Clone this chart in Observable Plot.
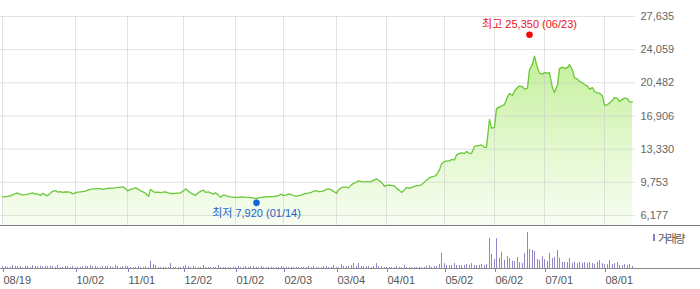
<!DOCTYPE html>
<html><head><meta charset="utf-8">
<script src="https://cdn.jsdelivr.net/npm/d3@7"></script>
<script src="https://cdn.jsdelivr.net/npm/@observablehq/plot@0.6"></script>
<style>
html,body{margin:0;padding:0;background:#fff;}
#chart{position:relative;width:700px;height:289px;overflow:hidden;font-family:"Liberation Sans","Noto Sans CJK KR",sans-serif;}
#chart svg{position:absolute;left:0;display:block;max-width:none;}
#legend{position:absolute;left:653px;top:231px;height:13px;display:flex;align-items:center;font-size:11px;color:#555;white-space:nowrap;letter-spacing:-1.5px;}
#legend i{display:inline-block;width:2px;height:7px;background:#8f7cc4;margin-right:3px;}
</style></head><body><div id="chart"></div>
<script>
// daily closes (trading-day index 0..251)
const closes = [
8190,8220,8240,8300,8400,8550,8590,8460,8400,8430,
8460,8550,8620,8480,8510,8330,8570,8400,8300,8590,
8780,8870,8700,8760,8670,8710,8730,8670,8510,8620,
8700,8730,8760,8800,8920,8990,9050,9050,9070,9080,
9000,9050,9090,9120,9130,9160,9200,9230,9270,9100,
8840,9000,9080,9160,9000,8840,8700,8570,8240,9000,
8730,8670,8700,8650,8700,8730,8620,8550,8550,8570,
8600,8620,8840,9050,8780,8620,8460,8350,8650,8780,
8910,8670,8730,8620,8480,8620,8350,8140,8400,8320,
8240,8190,8140,8140,8140,8190,8160,8140,8130,8100,
8060,8000,8080,8140,8170,8190,8200,8210,8220,8280,
8330,8480,8330,8400,8480,8440,8330,8240,8320,8380,
8480,8570,8590,8670,8800,8870,8750,8780,8840,9000,
9050,8940,8780,8570,8940,9180,9240,9230,9160,9480,
9640,9770,9910,9820,9800,9820,9840,9860,9970,10130,
9970,9750,9320,9430,9460,9430,9380,9100,8890,8670,
8940,9210,9100,9210,9320,9370,9430,9480,9800,9970,
10230,10340,10400,10560,11100,11740,12010,12030,12060,12220,
12170,12710,12870,12920,12870,13090,12870,12850,13620,13680,
13730,13790,13520,13520,16530,15610,15670,17710,17870,17980,
18140,18950,19330,19110,19600,19970,20130,20060,19810,19920,
21860,22500,23360,22070,21530,21420,21610,21500,21590,19920,
19430,20240,22020,22180,22020,22120,22450,21860,21020,20890,
20640,20460,20300,20130,19810,19970,19520,19400,19350,19060,
18040,18140,18300,18590,18900,18810,18470,18700,18840,18780,
18430,18410
];
// daily volume (thousand shares)
const volumes = [
42,38,21,24,61,44,37,40,19,43,39,22,58,41,36,45,39,42,38,44,40,
23,62,18,21,41,37,24,43,19,22,20,39,44,41,59,38,42,21,19,40,
37,43,39,22,63,41,18,40,44,38,21,19,23,42,20,22,39,18,142,81,
58,21,19,22,20,18,101,21,23,19,22,41,62,38,20,43,21,18,22,61,
19,22,20,21,18,59,22,19,21,20,18,23,21,42,19,22,39,21,43,38,
22,19,41,20,18,21,23,19,22,20,39,21,18,22,20,19,23,21,18,22,
20,41,19,43,22,18,21,39,42,20,22,61,19,21,79,41,38,43,58,98,
42,101,39,41,38,43,21,40,99,42,38,19,22,20,21,18,41,22,19,61,
21,19,22,20,18,21,17,22,41,58,21,39,42,81,302,98,61,58,63,102,
59,62,57,61,79,63,98,61,58,62,81,59,78,605,283,181,598,203,318,162,
238,197,142,138,221,118,102,298,720,381,362,338,182,161,238,178,139,302,198,221,
358,202,118,122,119,198,101,122,98,121,102,118,99,122,101,82,119,161,98,79,
82,158,81,98,121,62,58,79,62,81,41
];
const xTickIdx = [0, 29, 50, 72, 93, 112, 133, 153, 176, 196, 216, 240];
const xTickLabels = ["08/19","10/02","11/01","12/02","01/02","02/03","03/04","04/01","05/02","06/02","07/01","08/01"];
const yTicks = [6177, 9753, 13330, 16906, 20482, 24059, 27635];
const hiLabel = "최고", hiValue = 25350, hiDate = "06/23", hiIdx = 210;
const loLabel = "최저", loValue = 7920, loDate = "01/14", loIdx = 101;
const volLabel = "거래량";

const prices = closes.map((c, i) => ({i, c}));
const vols = volumes.map((v, i) => ({i, v}));
const fmt = d3.format(",");
const fontFamily = "'Liberation Sans','Noto Sans CJK KR',sans-serif";
const yMin = 5099, yMax = 27635;

const gradient = () => {
  const defs = d3.create("svg:defs");
  const g = defs.append("linearGradient").attr("id", "pg")
    .attr("x1", 0).attr("x2", 0).attr("y1", 0).attr("y2", 1);
  g.append("stop").attr("offset", "0%").attr("stop-color", "#c3ef99");
  g.append("stop").attr("offset", "50%").attr("stop-color", "#e1f8cb");
  g.append("stop").attr("offset", "100%").attr("stop-color", "#f7fdf2");
  return defs.node();
};

const priceSvg = Plot.plot({
  width: 700, height: 226,
  marginTop: 16, marginBottom: 1, marginLeft: 2, marginRight: 68,
  style: {fontFamily, fontSize: "11px", background: "transparent", overflow: "visible"},
  x: {domain: [0, closes.length - 1], round: true, axis: null, label: null},
  y: {domain: [yMin, yMax], axis: null, label: null},
  marks: [
    gradient,
    Plot.areaY(prices, {x: "i", y1: yMin, y2: "c", fill: "url(#pg)"}),
    Plot.ruleY(yTicks, {x1: -1, x2: closes.length, stroke: "#c8c8c8", strokeOpacity: 0.5}),
    Plot.ruleX(xTickIdx, {stroke: "#c8c8c8", strokeOpacity: 0.5}),
    Plot.lineY(prices, {x: "i", y: "c", stroke: "#6cc83a", strokeWidth: 1.3}),
    Plot.axisY(yTicks, {anchor: "right", tickSize: 0, tickPadding: 8, tickFormat: fmt, fill: "#666", textAnchor: "start", label: null}),
    Plot.ruleY([yMin], {x1: -5, x2: 320, stroke: "#7c7c7c"}),
    Plot.dot([{i: hiIdx, v: hiValue}], {x: "i", y: "v", r: 3.3, fill: "#ff0000", dy: -3}),
    Plot.text([{i: hiIdx, v: hiValue}], {x: "i", y: "v", dy: -13, fill: "#e8141c",
      text: d => `${hiLabel} ${fmt(d.v)} (${hiDate})`}),
    Plot.dot([{i: loIdx, v: loValue}], {x: "i", y: "v", r: 3.3, fill: "#1666d6", dy: 3.5}),
    Plot.text([{i: loIdx, v: loValue}], {x: "i", y: "v", dy: 14, fill: "#2264c8",
      text: d => `${loLabel} ${fmt(d.v)} (${loDate})`})
  ]
});
priceSvg.style.top = "0px";

const volSvg = Plot.plot({
  width: 700, height: 63,
  marginTop: 6, marginBottom: 21, marginLeft: 2, marginRight: 68,
  style: {fontFamily, fontSize: "11px", background: "transparent", overflow: "visible"},
  x: {domain: [0, volumes.length - 1], round: true, axis: null, label: null},
  y: {domain: [0, d3.max(volumes)], axis: null, label: null},
  marks: [
    Plot.ruleX(vols, {x: "i", y1: 0, y2: "v", stroke: "#9684c9"}),
    Plot.ruleY([0], {x1: -5, x2: 320, stroke: "#8a8a8a"}),
    Plot.axisX(xTickIdx, {tickSize: 4, tickPadding: 4, stroke: "#8f7cc4", fill: "#555",
      textAnchor: "start", dx: 1, label: null,
      tickFormat: d => xTickLabels[xTickIdx.indexOf(d)]})
  ]
});
volSvg.style.top = "226px";

const chart = document.getElementById("chart");
chart.append(priceSvg, volSvg);
const legend = document.createElement("div");
legend.id = "legend";
legend.innerHTML = `<i></i><span></span>`;
legend.querySelector("span").textContent = volLabel;
chart.append(legend);
</script></body></html>
